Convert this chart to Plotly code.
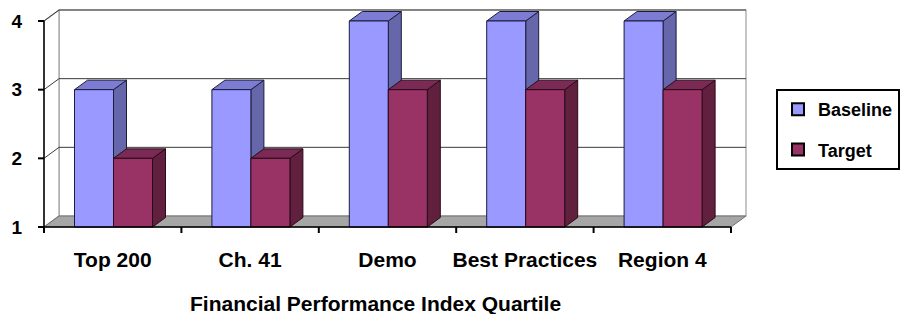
import plotly.graph_objects as go

# ---------------- data ----------------
categories = ["Top 200", "Ch. 41", "Demo", "Best Practices", "Region 4"]
series_names = ["Baseline", "Target"]
baseline = [3, 3, 4, 4, 4]
target = [2, 2, 3, 3, 3]
y_ticks = [1, 2, 3, 4]
x_title = "Financial Performance Index Quartile"

# ---------------- style ----------------
W, H = 900, 314
PX_X = 137.4          # pixels per category
PX_Y = 68.67          # pixels per unit
Y0 = 1                # axis minimum
YMAX = 4
N = len(categories)
DX, DY = 15 / PX_X, 11 / PX_Y        # wall depth
BDX, BDY = 13 / PX_X, 9.5 / PX_Y     # bar depth
BW = 39 / PX_X                        # bar width
START = 30.5 / PX_X                   # first bar offset inside category
TL_X, TL_Y = 6 / PX_X, 6 / PX_Y       # tick length
ML, MR, MT, MB = 37, 0, 8, 80         # margins (px)
PW, PH = W - ML - MR, H - MT - MB     # plot area size (px)
X_LEFT_PX = 7                         # space left of front axis inside plot area
Y_BOTTOM_PX = 7                       # space below floor inside plot area
TITLE_X_PX, TITLE_Y_PX = 375, 303     # axis title centre (px)

FONT = "Liberation Sans, Arial, sans-serif"
colors = {
    "Baseline": dict(front="#9999FF", top="#7C7CD2", side="#6666AA", edge="#1C1C3C"),
    "Target": dict(front="#993366", top="#7A2A54", side="#62203F", edge="#2A0A18"),
}

fig = go.Figure()


def poly(xs, ys, fill, line, width=1.0):
    fig.add_trace(go.Scatter(
        x=xs, y=ys, mode="lines", fill="toself", fillcolor=fill,
        line=dict(color=line, width=width), hoverinfo="skip", showlegend=False,
    ))


def seg(xs, ys, color, width=1.0):
    fig.add_trace(go.Scatter(
        x=xs, y=ys, mode="lines", line=dict(color=color, width=width),
        hoverinfo="skip", showlegend=False,
    ))


# back wall + left wall (white)
poly([DX, N + DX, N + DX, DX, DX], [Y0 + DY, Y0 + DY, YMAX + DY, YMAX + DY, Y0 + DY],
     "white", "#A0A0A0", 1.2)
poly([0, DX, DX, 0, 0], [Y0, Y0 + DY, YMAX + DY, YMAX, Y0], "white", "#A0A0A0", 1.2)

# gridlines on walls
gx, gy = [], []
for v in y_ticks[1:]:
    gx += [0, DX, N + DX, None]
    gy += [v, v + DY, v + DY, None]
seg(gx, gy, "#3A3A3A", 1.0)

# floor
poly([0, N, N + DX, DX, 0], [Y0, Y0, Y0 + DY, Y0 + DY, Y0], "#A6A6A6", "#707070", 1.0)

# bars
for k, (s, vals) in enumerate(zip(series_names, [baseline, target])):
    c = colors[s]
    fx, fy, tx, ty, sx, sy = [], [], [], [], [], []
    for i, v in enumerate(vals):
        x0 = i + START + k * BW
        x1 = x0 + BW
        fx += [x0, x1, x1, x0, x0, None]
        fy += [Y0, Y0, v, v, Y0, None]
        tx += [x0, x1, x1 + BDX, x0 + BDX, x0, None]
        ty += [v, v, v + BDY, v + BDY, v, None]
        sx += [x1, x1 + BDX, x1 + BDX, x1, x1, None]
        sy += [Y0, Y0 + BDY, v + BDY, v, Y0, None]
    poly(sx, sy, c["side"], c["edge"], 1.0)
    poly(tx, ty, c["top"], c["edge"], 1.0)
    poly(fx, fy, c["front"], c["edge"], 1.0)

# axes lines
seg([0, 0], [Y0, YMAX], "black", 1.5)
seg([0, N], [Y0, Y0], "black", 1.5)
# tick marks
tx, ty = [], []
for v in y_ticks:
    tx += [-TL_X, 0, None]
    ty += [v, v, None]
for i in range(N + 1):
    tx += [i, i, None]
    ty += [Y0, Y0 - TL_Y, None]
seg(tx, ty, "black", 2)

# legend entries
for s in series_names:
    fig.add_trace(go.Bar(
        x=[None], y=[None], name=s, legendgroup=s,
        marker=dict(color=colors[s]["front"], line=dict(color="black", width=2)),
    ))

x_lo = -X_LEFT_PX / PX_X
x_hi = x_lo + PW / PX_X
y_lo = Y0 - Y_BOTTOM_PX / PX_Y
y_hi = y_lo + PH / PX_Y

LEG_LEFT, LEG_TOP = 776, 89

fig.add_annotation(
    text=x_title, xref="paper", yref="paper",
    x=(TITLE_X_PX - ML) / PW, y=1 - (TITLE_Y_PX - MT) / PH,
    xanchor="center", yanchor="middle", showarrow=False,
    font=dict(size=21, family=FONT, weight="bold", color="black"),
)

fig.update_layout(
    width=W, height=H,
    margin=dict(l=ML, r=MR, t=MT, b=MB, autoexpand=False),
    paper_bgcolor="white", plot_bgcolor="white",
    font=dict(family=FONT, color="black", size=19, weight="bold"),
    showlegend=True,
    legend=dict(
        x=(LEG_LEFT - ML) / PW, xanchor="left",
        y=1 - (LEG_TOP - MT) / PH, yanchor="top",
        bordercolor="black", borderwidth=2, bgcolor="white",
        font=dict(size=18, family=FONT, weight="bold"),
        traceorder="grouped", tracegroupgap=14, itemwidth=30,
    ),
    xaxis=dict(
        range=[x_lo, x_hi], showgrid=False, zeroline=False, showline=False,
        tickvals=[i + 0.5 for i in range(N)], ticktext=categories, ticks="",
        tickfont=dict(size=21, family=FONT, weight="bold"), ticklabelstandoff=11,
        fixedrange=True, automargin=False,
    ),
    yaxis=dict(
        range=[y_lo, y_hi], showgrid=False, zeroline=False, showline=False,
        tickvals=y_ticks, ticktext=[str(v) for v in y_ticks], ticks="",
        tickfont=dict(size=19, family=FONT, weight="bold"), ticklabelstandoff=14,
        fixedrange=True, automargin=False,
    ),
)

fig.write_html(
    "out.html",
    config={"displayModeBar": False},
    post_script="document.body.style.margin='0';document.body.style.overflow='hidden';",
)
